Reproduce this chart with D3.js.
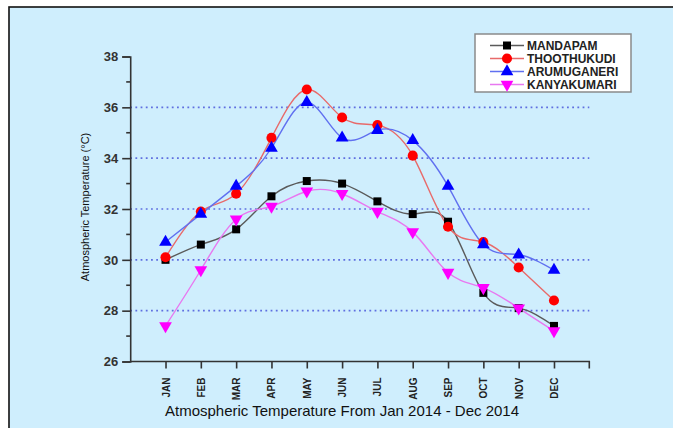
<!DOCTYPE html>
<html>
<head>
<meta charset="utf-8">
<script src="https://cdn.jsdelivr.net/npm/d3@7"></script>
<style>
  html, body { margin: 0; padding: 0; background: #ffffff; }
  svg { display: block; }
</style>
</head>
<body>
<script>
// Monthly mean atmospheric temperature (°C), 2014, four coastal stations
const months = ["JAN","FEB","MAR","APR","MAY","JUN","JUL","AUG","SEP","OCT","NOV","DEC"];
const mandapam    = [30.0, 30.6, 31.2, 32.5, 33.1, 33.0, 32.3, 31.8, 31.5, 28.7, 28.1, 27.4];
const thoothukudi = [30.1, 31.9, 32.6, 34.8, 36.7, 35.6, 35.3, 34.1, 31.3, 30.7, 29.7, 28.4];
const arumuganeri = [30.7, 31.8, 32.9, 34.4, 36.2, 34.8, 35.1, 34.7, 32.9, 30.6, 30.2, 29.6];
const kanyakumari = [27.4, 29.6, 31.6, 32.1, 32.7, 32.6, 31.9, 31.1, 29.5, 28.9, 28.1, 27.2];
const yTicks = [26, 28, 30, 32, 34, 36, 38];
const gridValues = [28, 30, 32, 34, 36];

const series = [
  { name: "MANDAPAM",    values: mandapam,    line: "#5a5a5a", fill: "#000000", symbol: d3.symbolSquare,   size: 64 },
  { name: "THOOTHUKUDI", values: thoothukudi, line: "#e86a6a", fill: "#ff0000", symbol: d3.symbolCircle,   size: 80 },
  { name: "ARUMUGANERI", values: arumuganeri, line: "#6070f0", fill: "#0000ff", symbol: d3.symbolTriangle, size: 70 },
  { name: "KANYAKUMARI", values: kanyakumari, line: "#e878f0", fill: "#ff00ff", symbol: d3.symbolTriangle, size: 70, flip: true }
];

const W = 673, H = 428;
const svg = d3.select("body").append("svg").attr("width", W).attr("height", H);

// panel background and frame
svg.append("rect").attr("x", 9).attr("y", 7).attr("width", W).attr("height", H)
  .attr("fill", "#cfeefd").attr("stroke", "#111").attr("stroke-width", 1.6);

const x = d3.scaleLinear().domain([0, 13]).range([130.2, 589.3]);
const y = d3.scaleLinear().domain([26, 38]).range([361.5, 56.5]);

// dotted horizontal grid
svg.append("g").selectAll("line").data(gridValues).join("line")
  .attr("x1", x(0)).attr("x2", x(13))
  .attr("y1", d => y(d)).attr("y2", d => y(d))
  .attr("stroke", "#5f6fe0").attr("stroke-width", 1.7)
  .attr("stroke-dasharray", "1.8,3.4");

// y axis
const yAxis = d3.axisLeft(y).tickValues(yTicks).tickSize(8).tickPadding(4).tickFormat(d3.format("d"));
const gy = svg.append("g").attr("transform", `translate(${x(0)},0)`).call(yAxis);
gy.select(".domain").attr("stroke", "#333").attr("stroke-width", 1.6);
gy.selectAll(".tick line").attr("stroke", "#333").attr("stroke-width", 1.6);
gy.selectAll(".tick text").attr("fill", "#333").attr("font-family", "Liberation Sans, Arial, sans-serif")
  .attr("font-size", 13).attr("font-weight", "bold");
// minor ticks on the y axis
const minorY = d3.range(27, 38, 2);
svg.append("g").selectAll("line").data(minorY).join("line")
  .attr("x1", x(0) - 4).attr("x2", x(0))
  .attr("y1", d => y(d)).attr("y2", d => y(d))
  .attr("stroke", "#333").attr("stroke-width", 1.6);

// x axis
const xAxis = d3.axisBottom(x).tickValues(d3.range(1, 13)).tickSize(7).tickFormat(i => months[i - 1]);
const gx = svg.append("g").attr("transform", `translate(0,${y(26)})`).call(xAxis);
gx.select(".domain").attr("stroke", "#333").attr("stroke-width", 1.6).attr("d", `M${x(0)},0H${x(13)}V7`);
gx.selectAll(".tick line").attr("stroke", "#333").attr("stroke-width", 1.6);
gx.selectAll(".tick text")
  .attr("fill", "#222").attr("font-family", "Liberation Sans Narrow, Arial Narrow, Liberation Sans, sans-serif")
  .attr("font-size", 10).attr("font-weight", "bold")
  .attr("text-anchor", "end").attr("dy", "0.35em")
  .attr("transform", "translate(0,10) rotate(-90)").attr("x", -6).attr("y", 0);

// axis titles
svg.append("text").attr("x", 342).attr("y", 416).attr("text-anchor", "middle")
  .attr("font-family", "Liberation Sans, Arial, sans-serif").attr("font-size", 15).attr("fill", "#111")
  .text("Atmospheric Temperature From Jan 2014 - Dec 2014");
svg.append("text").attr("transform", `translate(89,${(y(26) + y(38)) / 2 - 2}) rotate(-90)`)
  .attr("text-anchor", "middle")
  .attr("font-family", "Liberation Sans Narrow, Arial Narrow, Liberation Sans, sans-serif")
  .attr("font-size", 11).attr("fill", "#111")
  .text("Atmospheric Temperature (\u00B0C)");

// smoothed lines and markers
const line = d3.line().x((d, i) => x(i + 1)).y(d => y(d)).curve(d3.curveNatural);
const plot = svg.append("g");
series.forEach(s => {
  plot.append("path").attr("d", line(s.values)).attr("fill", "none")
    .attr("stroke", s.line).attr("stroke-width", 1.4);
});
const sym = s => d3.symbol().type(s.symbol).size(s.size)();
series.forEach(s => {
  plot.append("g").selectAll("path").data(s.values).join("path")
    .attr("d", sym(s))
    .attr("transform", (d, i) => `translate(${x(i + 1)},${y(d)})${s.flip ? " rotate(180)" : ""}`)
    .attr("fill", s.fill);
});

// legend
const lg = svg.append("g");
lg.append("rect").attr("x", 475).attr("y", 34).attr("width", 156).attr("height", 58)
  .attr("fill", "#ffffff").attr("stroke", "#8a8a8a").attr("stroke-width", 1.5);
series.forEach((s, k) => {
  const cy = 45.5 + k * 13;
  lg.append("line").attr("x1", 490).attr("x2", 524).attr("y1", cy).attr("y2", cy)
    .attr("stroke", s.line).attr("stroke-width", 1.4);
  lg.append("path").attr("d", sym(s))
    .attr("transform", `translate(507,${cy})${s.flip ? " rotate(180)" : ""}`).attr("fill", s.fill);
  lg.append("text").attr("x", 527).attr("y", cy).attr("dy", "0.36em")
    .attr("font-family", "Liberation Sans, Arial, sans-serif").attr("font-size", 12)
    .attr("font-weight", "bold").attr("fill", "#222").text(s.name);
});
</script>
</body>
</html>
